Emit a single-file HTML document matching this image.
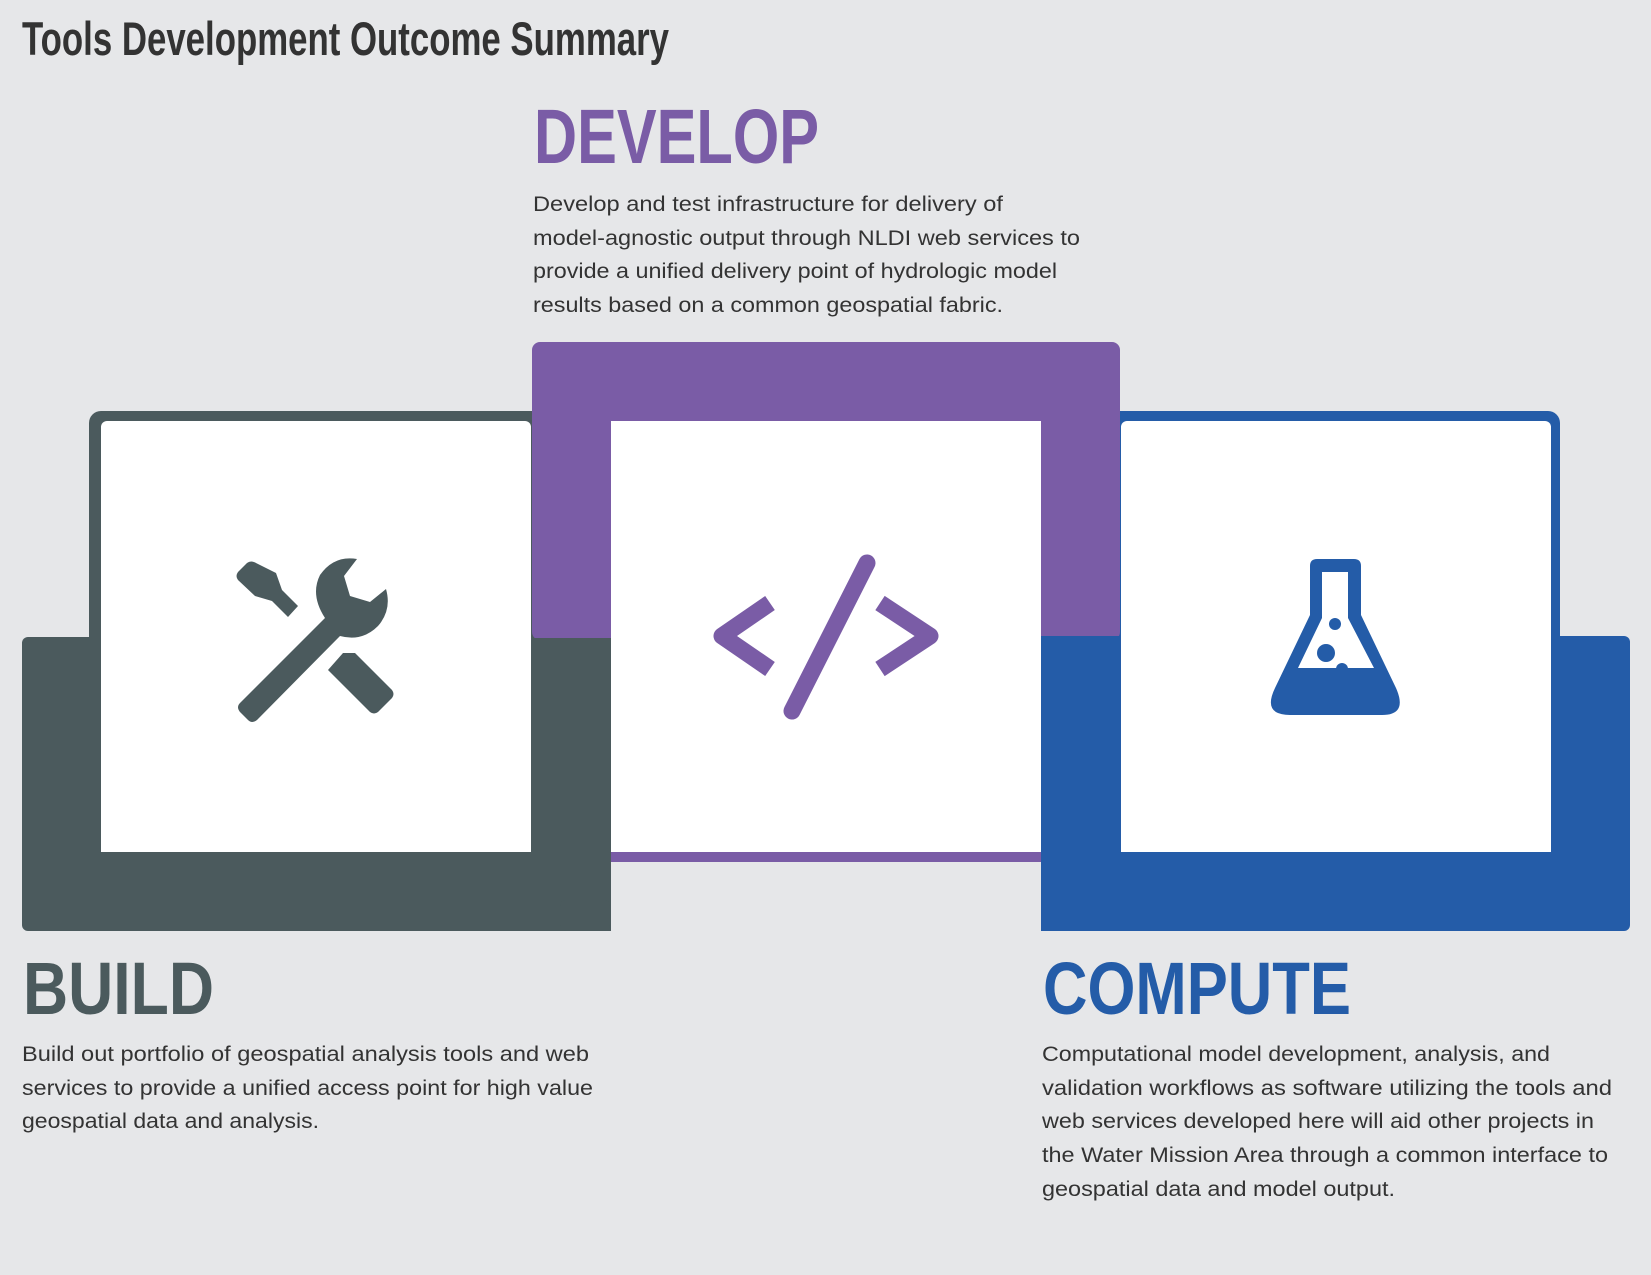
<!DOCTYPE html>
<html><head><meta charset="utf-8"><style>
html,body{margin:0;padding:0;background:#e6e7e9;}
svg{display:block;}
</style></head><body>
<svg width="1651" height="1275" viewBox="0 0 1651 1275" xmlns="http://www.w3.org/2000/svg">
<rect width="1651" height="1275" fill="#e6e7e9"/>
<g font-family="Liberation Sans, sans-serif">
<text x="22" y="55" font-size="47" font-weight="bold" fill="#333" textLength="647" lengthAdjust="spacingAndGlyphs">Tools Development Outcome Summary</text>
<text x="534" y="163" font-size="77" font-weight="bold" fill="#7a5ca6" textLength="285" lengthAdjust="spacingAndGlyphs">DEVELOP</text>
<g font-size="21" fill="#333">
<text x="533" y="211" textLength="470" lengthAdjust="spacingAndGlyphs">Develop and test infrastructure for delivery of</text>
<text x="533" y="245" textLength="547" lengthAdjust="spacingAndGlyphs">model-agnostic output through NLDI web services to</text>
<text x="533" y="278" textLength="524" lengthAdjust="spacingAndGlyphs">provide a unified delivery point of hydrologic model</text>
<text x="533" y="312" textLength="470" lengthAdjust="spacingAndGlyphs">results based on a common geospatial fabric.</text>
</g>
<text x="23" y="1014" font-size="74" font-weight="bold" fill="#4b5a5d" textLength="191" lengthAdjust="spacingAndGlyphs">BUILD</text>
<text x="1043" y="1014" font-size="74" font-weight="bold" fill="#245ca8" textLength="308" lengthAdjust="spacingAndGlyphs">COMPUTE</text>
<g font-size="21" fill="#333">
<text x="22" y="1061" textLength="567" lengthAdjust="spacingAndGlyphs">Build out portfolio of geospatial analysis tools and web</text>
<text x="22" y="1095" textLength="571" lengthAdjust="spacingAndGlyphs">services to provide a unified access point for high value</text>
<text x="22" y="1128" textLength="297" lengthAdjust="spacingAndGlyphs">geospatial data and analysis.</text>
<text x="1042" y="1061" textLength="508" lengthAdjust="spacingAndGlyphs">Computational model development, analysis, and</text>
<text x="1042" y="1095" textLength="570" lengthAdjust="spacingAndGlyphs">validation workflows as software utilizing the tools and</text>
<text x="1042" y="1128" textLength="552" lengthAdjust="spacingAndGlyphs">web services developed here will aid other projects in</text>
<text x="1042" y="1162" textLength="566" lengthAdjust="spacingAndGlyphs">the Water Mission Area through a common interface to</text>
<text x="1042" y="1196" textLength="353" lengthAdjust="spacingAndGlyphs">geospatial data and model output.</text>
</g>
</g>

<rect x="89" y="411" width="460" height="300" rx="12" fill="#4b5a5d"/>
<rect x="22" y="637" width="588" height="294" rx="6" fill="#4b5a5d"/>
<rect x="1100" y="411" width="460" height="300" rx="12" fill="#245ca8"/>
<rect x="1041" y="636" width="589" height="295" rx="6" fill="#245ca8"/>
<rect x="532" y="342" width="588" height="298" rx="8" fill="#7a5ca6"/>
<rect x="532" y="638" width="79" height="14" fill="#4b5a5d"/>
<rect x="1041" y="636" width="79" height="14" fill="#245ca8"/>
<rect x="611" y="640" width="430" height="222" fill="#7a5ca6"/>
<rect x="532" y="640" width="79" height="291" fill="#4b5a5d"/>
<rect x="560" y="900" width="50" height="31" rx="6" fill="#4b5a5d"/>
<rect x="1041" y="640" width="79" height="291" fill="#245ca8"/>
<rect x="101" y="421" width="430" height="431" rx="6" fill="#fff"/>
<rect x="101" y="440" width="430" height="412" fill="#fff"/>
<rect x="611" y="421" width="430" height="431" fill="#fff"/>
<rect x="1121" y="421" width="430" height="431" rx="6" fill="#fff"/>
<rect x="1121" y="440" width="430" height="412" fill="#fff"/>

<g fill="#4b5a5d">
<path d="M238,572 L247,563 Q251,560 256,563 L276,573 L282,590 L298,606 L288,617 L272,601 L255,596 L238,580 Q235,576 238,572 Z"/>
<path d="M343,653 L355,653 L392,690 Q395,694 392,698 L378,712 Q374,715 370,712 L328,670 Z"/>
<path d="M240,703 L325,618 Q310,595 320,575 Q334,555 357,559 L344,576 L350,596 L370,602 L386,589 Q392,610 378,626 Q362,642 340,636 L257,720 Q252,724 248,720 L240,712 Q236,707 240,703 Z"/>
</g>

<g fill="none" stroke="#7a5ca6" stroke-width="17" stroke-linejoin="round">
<polyline points="770,603 722,636 770,669"/>
<polyline points="880,603 930,636 880,669"/>
<line x1="867" y1="563" x2="792" y2="711" stroke-linecap="round"/>
</g>

<path fill="#245ca8" d="M1310,566 Q1310,559 1317,559 L1354,559 Q1361,559 1361,566 L1361,615 L1396,688 Q1408,715 1382,715 L1290,715 Q1262,715 1275,688 L1310,615 Z"/>
<path fill="#fff" d="M1322,572 L1348,572 L1348,618 L1374,668 L1298,668 L1322,618 Z"/>
<g fill="#245ca8">
<circle cx="1335" cy="624" r="6"/>
<circle cx="1326" cy="653" r="9"/>
<circle cx="1342" cy="669" r="6"/>
</g>
</svg>
</body></html>
